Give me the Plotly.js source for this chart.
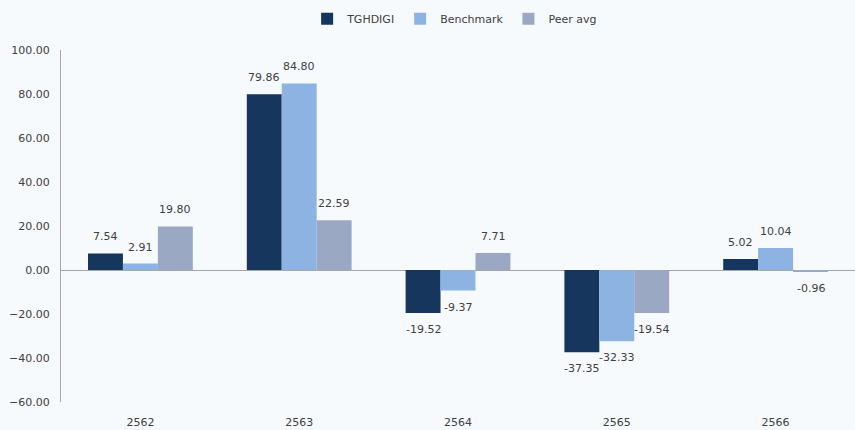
<!DOCTYPE html>
<html><head><meta charset="utf-8">
<script src="https://cdn.plot.ly/plotly-3.0.1.min.js"></script>
<style>html,body{margin:0;padding:0;background:#f7fafd;}</style>
</head><body>
<div id="chart" style="width:855px;height:430px;"></div>
<script>
const categories = ['2562', '2563', '2564', '2565', '2566'];
const tghdigi = [7.54, 79.86, -19.52, -37.35, 5.02];
const benchmark = [2.91, 84.80, -9.37, -32.33, 10.04];
const peerAvg = [19.80, 22.59, 7.71, -19.54, -0.96];
const seriesNames = ['TGHDIGI', 'Benchmark', 'Peer avg'];
const colors = ['#17365d', '#8db3e2', '#9aa8c4'];
const seriesValues = [tghdigi, benchmark, peerAvg];

const font = {family: 'Verdana, "DejaVu Sans", sans-serif', size: 11, color: '#404040'};
const data = seriesValues.map((vals, i) => ({
  type: 'bar', name: seriesNames[i], x: categories, y: vals,
  marker: {color: colors[i]},
  hoverinfo: 'none'
}));

const barPx = 35;
const annotations = [];
seriesValues.forEach((vals, i) => {
  vals.forEach((v, j) => {
    annotations.push({
      x: j, y: v, xref: 'x', yref: 'y',
      text: v.toFixed(2), showarrow: false,
      xshift: (i - 1) * barPx,
      yshift: v >= 0 ? 8 : -8,
      yanchor: v >= 0 ? 'bottom' : 'top',
      font: font
    });
  });
});

const layout = {
  width: 855, height: 430,
  paper_bgcolor: '#f7fafd', plot_bgcolor: '#f7fafd',
  margin: {l: 61, r: 0, t: 50, b: 28},
  barmode: 'group', bargap: 0.34, bargroupgap: 0,
  font: font,
  showlegend: true,
  legend: {orientation: 'h', x: 0.31, xanchor: 'left', y: 0.99, yanchor: 'top', yref: 'container',
           font: {family: font.family, size: 11, color: '#404040'}, traceorder: 'normal',
           itemwidth: 30},
  annotations: annotations,
  xaxis: {type: 'category', range: [-0.5, 4.5], showline: false, ticks: '', showgrid: false, zeroline: false,
          tickfont: font, automargin: false, ticklabelstandoff: 12},
  yaxis: {range: [-60, 100], dtick: 20, tickformat: '.2f', showgrid: false,
          showline: true, linecolor: '#a6a6a6', linewidth: 1, zeroline: true,
          zerolinecolor: '#a6a6a6', zerolinewidth: 1, ticks: '', tickfont: font,
          automargin: false, ticklabelstandoff: 8}
};
Plotly.newPlot('chart', data, layout, {displayModeBar: false, staticPlot: true});
</script>
</body></html>
